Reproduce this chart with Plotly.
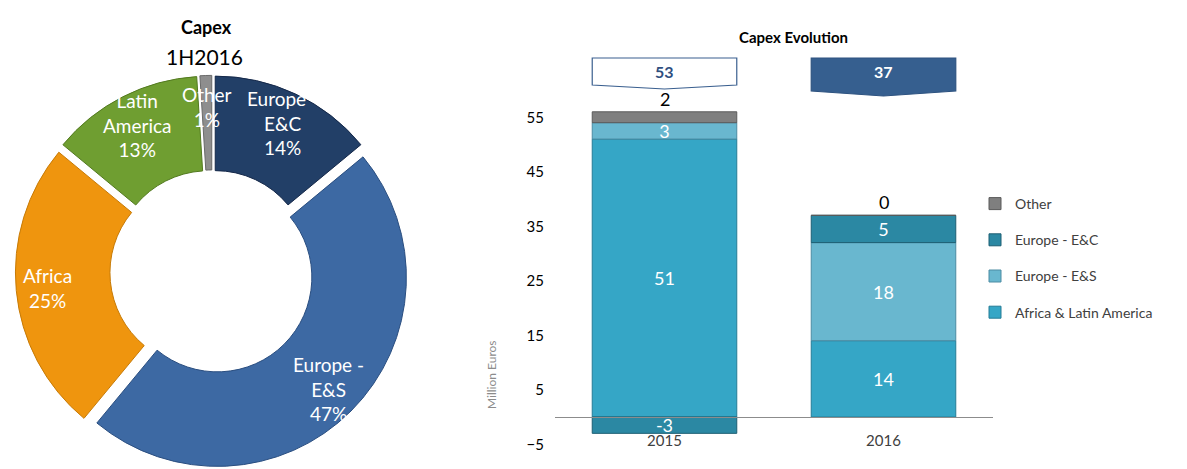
import math
import plotly.graph_objects as go

W, H = 1187, 469

# ---- Donut: Capex 1H2016 by region ----
pie_labels = ["Europe - E&C", "Europe - E&S", "Africa", "Latin America", "Other"]
pie_text = ["Europe -<br>E&C", "Europe -<br>E&S", "Africa", "Latin<br>America", "Other"]
pie_values = [14, 47, 25, 13, 1]
pie_colors = ["#223F67", "#3D69A3", "#EF950E", "#6F9E31", "#8E8E8E"]
pie_edges = ["#16294A", "#2A4E80", "#C77A05", "#537A20", "#6A6A6A"]

# ---- Stacked bars: Capex evolution (million euros) ----
years = ["2015", "2016"]
africa_latam = [51, 14]
europe_es = [3, 18]
europe_ec = [-3, 5]
other = [2, 0]

bar_series = [
    ("Africa & Latin America", africa_latam, "#35A6C6", "#257C96"),
    ("Europe - E&S", europe_es, "#69B7CF", "#4C8CA3"),
    ("Europe - E&C", europe_ec, "#2B88A3", "#1D5F73"),
    ("Other", other, "#7F7F7F", "#5A5A5A"),
]
y_ticks = [-5, 5, 15, 25, 35, 45, 55]

FONT = "Lato"


def px_x(p):
    return p / W


def px_y(p):
    return 1 - p / H


def note(x, y, text, size, color, xref="paper", yref="paper", **kw):
    d = dict(x=x, y=y, xref=xref, yref=yref, text=text, showarrow=False,
             xanchor="center", yanchor="middle", align="center",
             font=dict(family=FONT, size=size, color=color))
    d.update(kw)
    return d


fig = go.Figure()

# donut geometry (pixels)
cx, cy, half = 212, 272, 196.6
pull = 0.04
fig.add_trace(go.Pie(
    labels=pie_labels,
    values=pie_values,
    hole=0.5,
    sort=False,
    direction="clockwise",
    rotation=0,
    pull=[pull] * len(pie_values),
    marker=dict(colors=pie_colors, line=dict(color=pie_edges, width=1)),
    textinfo="none",
    showlegend=False,
    domain=dict(x=[px_x(cx - half), px_x(cx + half)],
                y=[max(0, px_y(cy + half)), px_y(cy - half)]),
))

annotations = []

# slice labels placed along each slice's mid angle
total = sum(pie_values)
acc = 0
label_r = 165
for txt, v in zip(pie_text, pie_values):
    mid = (acc + v / 2) / total * 2 * math.pi
    acc += v
    lx = cx + label_r * math.sin(mid)
    ly = cy - label_r * math.cos(mid)
    pct = round(100 * v / total)
    annotations.append(note(px_x(lx), px_y(ly), f"{txt}<br>{pct}%", 19, "white"))

annotations += [
    note(px_x(206), px_y(27), "<b>Capex</b>", 18, "black"),
    note(px_x(204), px_y(56), "1H2016", 21, "black"),
]

# stacked bars; legend lists the top of the stack first
xs = list(range(len(years)))
n_series = len(bar_series)
for k, (name, vals, color, edge) in enumerate(bar_series):
    is_other = name == "Other"
    fig.add_trace(go.Bar(
        x=xs, y=vals, name=name, width=0.66,
        marker=dict(color=color, line=dict(color=edge, width=1)),
        text=None if is_other else [str(v) for v in vals],
        textposition="inside",
        insidetextanchor="middle",
        constraintext="none",
        textangle=0,
        textfont=dict(family=FONT, size=18, color="white"),
        legendgroup=name,
        legendrank=n_series - k,
        xaxis="x", yaxis="y",
        hoverinfo="x+y+name",
    ))

# "Other" values written above each stack
pos_tops = [sum(max(0, s[1][i]) for s in bar_series[:-1]) for i in xs]
for i in xs:
    annotations.append(note(i, pos_tops[i] + other[i], str(other[i]), 18, "black",
                            xref="x", yref="y", yanchor="bottom", yshift=0))

# totals shown in callout boxes above the bars
totals = [sum(s[1][i] for s in bar_series) for i in xs]
box_styles = [
    dict(fill="white", line="#3A5F8F", text="#2F4F7F", side=85, tip=89),
    dict(fill="#365F8F", line="#2E5380", text="white", side=91, tip=96),
]
shapes = []
hw = 0.33
for i in xs:
    st = box_styles[i]
    top, side, tip = px_y(58), px_y(st["side"]), px_y(st["tip"])
    shapes.append(dict(
        type="path", xref="x", yref="paper",
        path=(f"M {i - hw},{top} L {i + hw},{top} L {i + hw},{side} "
              f"L {i},{tip} L {i - hw},{side} Z"),
        fillcolor=st["fill"], line=dict(color=st["line"], width=1.2),
        layer="above",
    ))
    annotations.append(note(i, px_y(72), f"<b>{totals[i]}</b>", 16, st["text"],
                            xref="x"))

annotations += [
    note(px_x(793), px_y(37), "<b>Capex Evolution</b>", 15, "black"),
    note(px_x(491), px_y(375), "Million Euros", 12, "#8C8C8C", textangle=-90),
]

# bar plot area: zero at y=417px, 10 units = 54.5px
y_lo, y_hi = -8, 62
zero_px, unit_px = 417, 5.45
fig.update_layout(
    width=W, height=H,
    margin=dict(l=0, r=0, t=0, b=0),
    paper_bgcolor="white", plot_bgcolor="rgba(0,0,0,0)",
    barmode="relative",
    font=dict(family=FONT),
    xaxis=dict(
        domain=[px_x(555), px_x(993)],
        range=[-0.5, 1.5],
        tickvals=xs, ticktext=years,
        anchor="free", position=px_y(zero_px),
        showline=True, linecolor="#8C8C8C", linewidth=1.2,
        showgrid=False, zeroline=False, ticks="",
        ticklabelstandoff=10,
        tickfont=dict(family=FONT, size=15, color="#404040"),
    ),
    yaxis=dict(
        domain=[px_y(zero_px - unit_px * y_lo), px_y(zero_px - unit_px * y_hi)],
        range=[y_lo, y_hi],
        tickvals=y_ticks,
        showgrid=False, zeroline=False, showline=False, ticks="",
        ticklabelstandoff=10,
        tickfont=dict(family=FONT, size=15, color="black"),
    ),
    legend=dict(
        x=px_x(975), xanchor="left", y=px_y(188), yanchor="top",
        traceorder="grouped", tracegroupgap=15,
        bgcolor="rgba(0,0,0,0)",
        font=dict(family=FONT, size=14, color="#404040"),
    ),
    annotations=annotations,
    shapes=shapes,
)

fig.write_html("out.html")
